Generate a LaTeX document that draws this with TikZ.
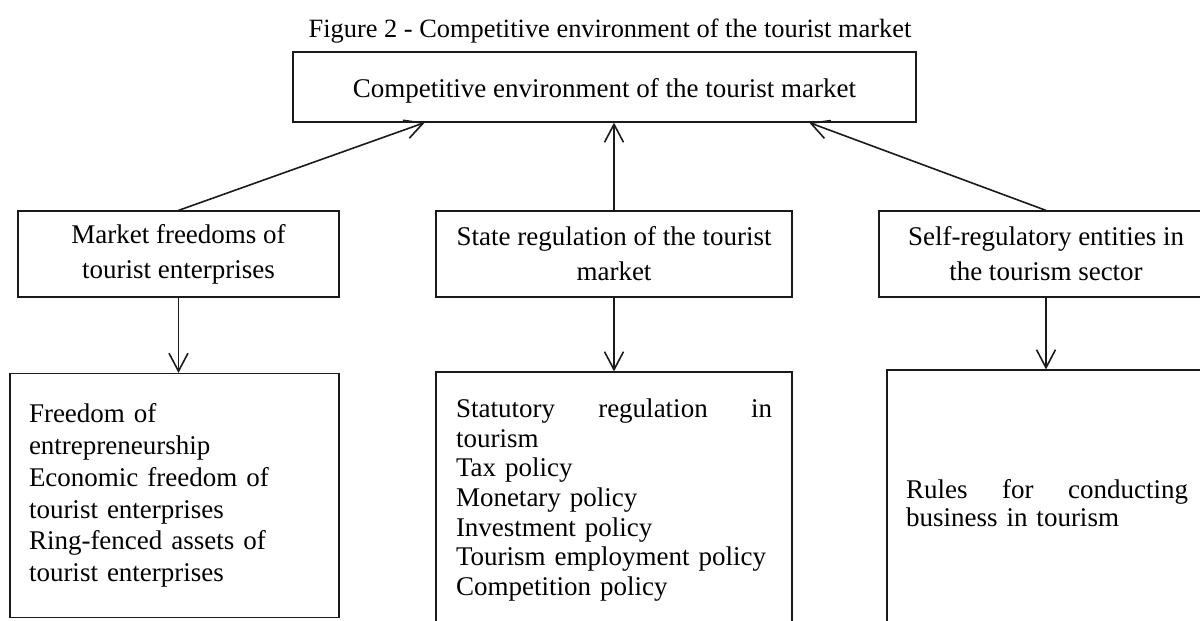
\documentclass[tikz,border=0pt]{standalone}
\usepackage{fontspec}
\setmainfont{Liberation Serif}
\usetikzlibrary{arrows.meta, calc}

\begin{document}
\begin{tikzpicture}[x=0.5pt, y=-0.5pt,
    box/.style={draw=lineColour, line width=0.6pt, inner sep=0pt, font=\fontsize{13.5}{17.5}\selectfont},
    arrowLine/.style={draw=lineColour, line width=0.8pt, -{Straight Barb[length=9pt,width=9.5pt]}}
]
    \definecolor{lineColour}{HTML}{1A1A1A}

    % Page frame
    \useasboundingbox (0,0) rectangle (1200,621);
    \clip (0,0) rectangle (1200,621);

    % Caption
    \node[anchor=base, font=\fontsize{13.2}{15}\selectfont] (caption) at (610,37)
        {Figure 2 - Competitive environment of the tourist market};

    % Top box
    \node[box, minimum width=311.5pt, minimum height=35pt, text height=12pt, text depth=2pt] (env) at (604.5,87)
        {Competitive environment of the tourist market};

    % Middle row
    \node[box, minimum width=160.5pt, minimum height=43pt, align=center] (freedoms) at (178.5,254)
        {Market freedoms of\\tourist enterprises};
    \node[box, minimum width=178pt, minimum height=43pt, align=center] (stateReg) at (614,254)
        {State regulation of the tourist\\market};
    \node[box, minimum width=167pt, minimum height=43pt, align=center] (selfReg) at (1046,254)
        {Self-regulatory entities in\\the tourism sector};

    % Bottom row
    \node[box, minimum width=164.5pt, minimum height=122pt, text width=145.5pt, align=left,
          font=\fontsize{13.5}{15.9}\selectfont] (freedomList) at (174.5,495.5)
        {Freedom of\\entrepreneurship\\Economic freedom of\\tourist enterprises\\Ring-fenced assets of\\tourist enterprises};
    \node[box, minimum width=178pt, minimum height=128pt, text width=158pt, align=left,
          font=\fontsize{13.5}{14.85}\selectfont] (stateList) at (614,500)
        {Statutory\hfill regulation\hfill in\\tourism\\Tax policy\\Monetary policy\\Investment policy\\Tourism employment policy\\Competition policy};
    \node[box, minimum width=160pt, minimum height=133pt, text width=141pt, align=left,
          font=\fontsize{13.5}{14}\selectfont] (selfList) at (1047,503)
        {Rules\hfill for\hfill conducting\\business in tourism};

    % Arrows up to the top box
    \draw[arrowLine] (freedoms.north) -- ($(env.south west)!0.212!(env.south east)$);
    \draw[arrowLine] (stateReg.north) -- (stateReg.north |- env.south);
    \draw[arrowLine] (selfReg.north) -- ($(env.south west)!0.828!(env.south east)$);

    % Arrows down to the lists
    \draw[arrowLine] (freedoms.south) -- (freedoms.south |- freedomList.north);
    \draw[arrowLine] (stateReg.south) -- (stateReg.south |- stateList.north);
    \draw[arrowLine] (selfReg.south) -- (selfReg.south |- selfList.north);

\end{tikzpicture}
\end{document}
